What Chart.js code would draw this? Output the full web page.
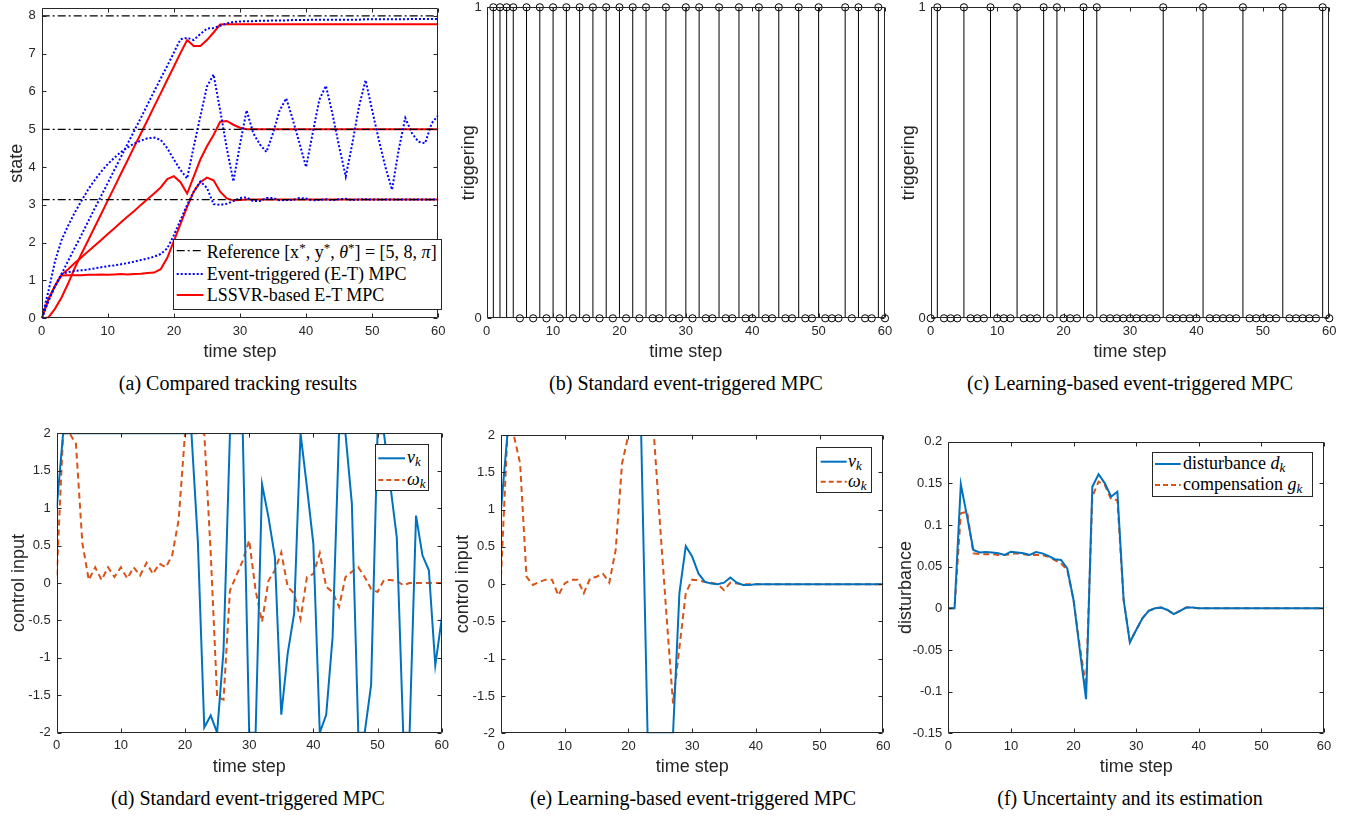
<!DOCTYPE html>
<html>
<head>
<meta charset="utf-8">
<script src="https://cdn.jsdelivr.net/npm/chart.js@4.4.0/dist/chart.umd.min.js"></script>
<style>
  body { margin: 0; background: #fff; }
  #page { position: relative; width: 1353px; height: 817px; overflow: hidden; background: #fff; }
  canvas { position: absolute; }
  .cap { position: absolute; font-family: 'Liberation Serif', 'Times New Roman', serif; font-size: 20px; color: #000;
         white-space: nowrap; transform: translate(-50%, -50%); line-height: 1; }
  .lgbox { position: absolute; background: #fff; border: 1px solid #262626; box-sizing: border-box; }
  .lgtext { position: absolute; font-family: 'Liberation Serif', 'Times New Roman', serif; font-size: 18px; color: #000;
            white-space: nowrap; transform: translateY(-50%); line-height: 1; }
  .lgtext sub { font-size: 13px; vertical-align: -3px; }
  .lgtext sup { font-size: 13px; vertical-align: 6px; }
  svg { position: absolute; overflow: visible; }
</style>
</head>
<body>
<div id="page">
  <canvas id="ca" width="450" height="365" style="left:0px;top:0px"></canvas>
  <canvas id="cb" width="440" height="365" style="left:455px;top:0px"></canvas>
  <canvas id="cc" width="450" height="365" style="left:895px;top:0px"></canvas>
  <canvas id="cd" width="455" height="380" style="left:0px;top:400px"></canvas>
  <canvas id="ce" width="445" height="380" style="left:445px;top:400px"></canvas>
  <canvas id="cf" width="455" height="380" style="left:890px;top:400px"></canvas>

  <div class="cap" style="left:238px;top:383px">(a) Compared tracking results</div>
  <div class="cap" style="left:686px;top:383px">(b) Standard event-triggered MPC</div>
  <div class="cap" style="left:1130px;top:383px">(c) Learning-based event-triggered MPC</div>
  <div class="cap" style="left:248px;top:798px">(d) Standard event-triggered MPC</div>
  <div class="cap" style="left:693px;top:798px">(e) Learning-based event-triggered MPC</div>
  <div class="cap" style="left:1130px;top:798px">(f) Uncertainty and its estimation</div>
</div>
<script>
// ---- data ----
const steps = [0,1,2,3,4,5,6,7,8,9,10,11,12,13,14,15,16,17,18,19,20,21,22,23,24,25,26,27,28,29,30,
  31,32,33,34,35,36,37,38,39,40,41,42,43,44,45,46,47,48,49,50,51,52,53,54,55,56,57,58,59,60];
const xTicks = [0, 10, 20, 30, 40, 50, 60];
const stateTicks = [0, 1, 2, 3, 4, 5, 6, 7, 8];
const trigTicks = [0, 1];
const inputTicks = [-2, -1.5, -1, -0.5, 0, 0.5, 1, 1.5, 2];
const distTicks = [-0.15, -0.1, -0.05, 0, 0.05, 0.1, 0.15, 0.2];

// reference [x*, y*, theta*]
const refValues = [5, 8, 3.1416];

// (a) event-triggered MPC states
const etX = [0,0.7,1.5,2.07,2.45,2.8,3.1,3.4,3.65,3.88,4.08,4.25,4.4,4.52,4.62,4.7,4.76,4.78,4.72,4.5,4.2,
  3.92,3.7,4.54,5.34,6.13,6.45,5.5,4.5,3.62,4.6,5.5,4.9,4.6,4.4,4.9,5.5,5.82,5.25,4.63,4.0,
  4.9,5.78,6.15,5.4,4.54,3.75,4.63,5.6,6.3,5.5,4.72,4.0,3.4,4.45,5.3,4.9,4.67,4.63,5.16,5.37];
const etY = [0,0.45,0.85,1.17,1.52,1.86,2.2,2.55,2.9,3.24,3.58,3.93,4.27,4.62,4.96,5.3,5.65,6.0,6.34,6.68,7.03,
  7.38,7.42,7.36,7.52,7.66,7.68,7.74,7.8,7.84,7.85,7.86,7.86,7.87,7.87,7.88,7.88,7.88,7.89,7.89,7.89,
  7.9,7.9,7.9,7.9,7.9,7.9,7.9,7.9,7.91,7.91,7.91,7.91,7.91,7.91,7.91,7.92,7.92,7.92,7.92,7.92];
const etTheta = [0,0.45,0.85,1.17,1.22,1.25,1.27,1.29,1.32,1.35,1.38,1.4,1.43,1.46,1.5,1.54,1.58,1.63,1.7,1.85,2.2,
  2.6,3.0,3.35,3.62,3.45,3.02,3.0,3.03,3.1,3.18,3.2,3.1,3.1,3.18,3.18,3.12,3.13,3.13,3.18,3.17,
  3.12,3.13,3.15,3.12,3.15,3.16,3.13,3.14,3.15,3.14,3.14,3.14,3.14,3.14,3.14,3.14,3.14,3.14,3.14,3.14];

// (a) LSSVR-based E-T MPC states
const lsX = [0,0.5,0.85,1.15,1.3,1.46,1.61,1.77,1.92,2.07,2.23,2.38,2.54,2.69,2.84,3.0,3.15,3.3,3.46,3.68,3.76,
  3.6,3.3,3.75,4.2,4.55,4.85,5.2,5.22,5.12,5.04,5.0,5.0,5.0,5.0,5.0,5.0,5.0,5.0,5.0,5.0,
  5.0,5.0,5.0,5.0,5.0,5.0,5.0,5.0,5.0,5.0,5.0,5.0,5.0,5.0,5.0,5.0,5.0,5.0,5.0,5.0];
const lsY = [0,0.02,0.25,0.55,0.92,1.33,1.7,2.05,2.41,2.76,3.12,3.47,3.83,4.18,4.54,4.89,5.24,5.6,5.95,6.31,6.66,
  7.02,7.36,7.2,7.2,7.36,7.56,7.77,7.78,7.78,7.78,7.78,7.78,7.78,7.78,7.78,7.78,7.78,7.78,7.78,7.78,
  7.78,7.78,7.78,7.78,7.78,7.78,7.78,7.78,7.78,7.78,7.78,7.78,7.78,7.78,7.78,7.78,7.78,7.78,7.78,7.78];
const lsTheta = [0,0.5,0.85,1.13,1.14,1.14,1.14,1.15,1.15,1.16,1.15,1.16,1.17,1.16,1.17,1.18,1.2,1.21,1.3,1.6,2.05,
  2.5,2.95,3.35,3.6,3.72,3.65,3.35,3.17,3.12,3.13,3.14,3.14,3.14,3.14,3.14,3.14,3.14,3.14,3.14,3.14,
  3.14,3.14,3.14,3.14,3.14,3.14,3.14,3.14,3.14,3.14,3.14,3.14,3.14,3.14,3.14,3.14,3.14,3.14,3.14,3.14];

// (b) / (c) triggering instants
const stdTrig = [null,1,1,1,1,0,1,0,1,0,1,0,1,0,1,0,1,0,1,0,1,
  0,1,0,1,0,0,1,0,0,1,0,1,0,0,1,0,0,1,0,0,
  1,0,0,1,0,0,1,0,0,1,0,0,0,1,0,1,0,0,1,0];
const learnTrig = [0,1,0,0,0,1,0,0,0,1,0,0,0,1,0,0,0,1,0,1,0,
  0,0,1,0,1,0,0,0,0,0,0,0,0,0,1,0,0,0,0,0,
  1,0,0,0,0,0,1,0,0,0,0,0,1,0,0,0,0,0,1,0];

// (d) standard ET MPC inputs
const stdV = [1,2,2,2,2,2,2,2,2,2,2,2,2,2,2,2,2,2,2,2,2,
  2,0.55,-1.93,-1.77,-2,-0.9,2,2,2,-2,-2,1.32,0.88,0.35,-1.76,-0.94,-0.41,2,1.28,0.52,
  -2,-1.76,-0.72,2,2,1.06,-2,-2,-1.36,2,2,1.3,0.61,-2,-2,0.9,0.37,0.17,-1.1,-0.48];
const stdW = [0.1,2,2,1.86,0.53,0.04,0.21,0.04,0.21,0.08,0.21,0.06,0.21,0.1,0.27,0.12,0.26,0.21,0.37,0.84,2,
  2,2,2,0.4,-1.52,-1.56,-0.1,0.1,0.3,0.57,-0.1,-0.52,0.03,0.17,0.41,-0.05,-0.14,-0.48,0.08,0.12,
  0.4,-0.05,-0.12,-0.32,0.08,0.15,0.21,0.08,-0.08,-0.12,0.04,0.04,0.03,-0.03,0,0,0,0,0,0];

// (e) learning-based ET MPC inputs
const lrnV = [1,2,2,2,2,2,2,2,2,2,2,2,2,2,2,2,2,2,2,2,2,
  2,2,-2,-2,-2,-2,-2,-0.12,0.51,0.37,0.14,0.03,0.01,0,0.02,0.09,0.02,-0.01,-0.01,0,
  0,0,0,0,0,0,0,0,0,0,0,0,0,0,0,0,0,0,0,0];
const lrnW = [0.1,2,2,1.62,0.1,-0.01,0.03,0.06,0.06,-0.15,0.01,0.06,0.06,-0.12,0.08,0.1,0.14,0.02,0.46,1.62,2,
  2,2,2,2,0.75,-0.45,-1.6,-0.85,-0.12,0.06,0.05,0.03,0.02,0,-0.08,0.02,0.01,0,0,0,
  0,0,0,0,0,0,0,0,0,0,0,0,0,0,0,0,0,0,0,0];

// (f) disturbance and its compensation
const dist = [0,0,0.149,0.11,0.07,0.067,0.0676,0.067,0.066,0.064,0.068,0.067,0.066,0.064,0.0676,0.066,0.063,0.059,0.058,0.048,0.01,
  -0.05,-0.109,0.146,0.161,0.15,0.134,0.14,0.01,-0.041,-0.026,-0.012,-0.003,0,0.001,-0.002,-0.007,-0.003,0.001,0.001,0,
  0,0,0,0,0,0,0,0,0,0,0,0,0,0,0,0,0,0,0,0];
const comp = [0,0,0.114,0.116,0.066,0.065,0.065,0.065,0.064,0.064,0.065,0.066,0.065,0.064,0.064,0.064,0.062,0.058,0.054,0.046,0.01,
  -0.046,-0.094,0.134,0.152,0.148,0.131,0.13,0.01,-0.04,-0.026,-0.012,-0.003,0,0.001,-0.002,-0.007,-0.003,0.001,0.001,0,
  0,0,0,0,0,0,0,0,0,0,0,0,0,0,0,0,0,0,0,0];

// ---- helpers ----
const AX = '#262626';
const SANS = "'Liberation Sans', Arial, Helvetica, sans-serif";
const BLUE = '#0072BD', ORANGE = '#D95319';

const pts = ys => ys.map((y, i) => ({ x: steps[i], y: y }));

function stemLines(vals) {
  const out = [];
  vals.forEach((v, i) => {
    if (v === 1) out.push({ x: steps[i], y: 0 }, { x: steps[i], y: 1 }, { x: steps[i], y: null });
  });
  return out;
}
function stemHeads(vals) {
  return vals.map((v, i) => ({ x: steps[i], y: v })).filter(p => p.y !== null);
}

// matlab-like box with inward ticks on all four sides
const boxPlugin = {
  id: 'mbox',
  afterDatasetsDraw(chart) {
    const { ctx, chartArea: a, scales } = chart;
    const L = Math.round(a.left) + 0.5, R = Math.round(a.right) - 0.5;
    const T = Math.round(a.top) + 0.5, B = Math.round(a.bottom) - 0.5;
    ctx.save();
    ctx.strokeStyle = AX;
    ctx.lineWidth = 1;
    ctx.beginPath();
    ctx.rect(L, T, R - L, B - T);
    const tl = 4;
    scales.x.ticks.forEach(t => {
      const px = Math.round(scales.x.getPixelForValue(t.value)) + 0.5;
      ctx.moveTo(px, B); ctx.lineTo(px, B - tl);
      ctx.moveTo(px, T); ctx.lineTo(px, T + tl);
    });
    scales.y.ticks.forEach(t => {
      const py = Math.round(scales.y.getPixelForValue(t.value)) + 0.5;
      ctx.moveTo(L, py); ctx.lineTo(L + tl, py);
      ctx.moveTo(R, py); ctx.lineTo(R - tl, py);
    });
    ctx.stroke();
    ctx.restore();
  }
};

function plot(id, o) {
  return new Chart(document.getElementById(id), {
    type: 'line',
    data: { datasets: o.datasets },
    options: {
      responsive: false,
      animation: false,
      events: [],
      layout: { padding: { top: o.top, right: o.right, left: 0, bottom: 0 } },
      plugins: { legend: { display: false }, tooltip: { enabled: false } },
      elements: { point: { radius: 0 }, line: { tension: 0 } },
      scales: {
        x: {
          type: 'linear', min: 0, max: 60,
          afterBuildTicks: s => { s.ticks = xTicks.map(v => ({ value: v })); },
          afterFit: s => { s.height = o.xh; s.paddingLeft = 0; s.paddingRight = 0; },
          grid: { display: false, drawTicks: false },
          border: { display: false },
          ticks: { color: AX, font: { family: SANS, size: 13 }, padding: 5, maxRotation: 0, autoSkip: false,
                   callback: v => String(v) },
          title: { display: true, text: 'time step', color: AX, font: { family: SANS, size: 18 },
                   padding: { top: 0, bottom: 2.2 } }
        },
        y: {
          type: 'linear', min: o.ymin, max: o.ymax,
          afterBuildTicks: s => { s.ticks = o.yticks.map(v => ({ value: v })); },
          afterFit: s => { s.width = o.yw; s.paddingTop = 0; s.paddingBottom = 0; },
          grid: { display: false, drawTicks: false },
          border: { display: false },
          ticks: { color: AX, font: { family: SANS, size: 13 }, padding: o.ypad, autoSkip: false,
                   callback: v => String(v) },
          title: { display: true, text: o.ytitle, color: AX, font: { family: SANS, size: 18 },
                   padding: { top: o.tpad, bottom: 0 } }
        }
      }
    },
    plugins: [boxPlugin]
  });
}

// ---- (a) tracking results ----
const refSets = refValues.map(v => ({
  data: [{ x: 0, y: v }, { x: 60, y: v }],
  borderColor: '#000', borderWidth: 1.2, borderDash: [8, 3, 2, 3]
}));
const etSet = ys => ({ data: pts(ys), borderColor: '#0000FF', borderWidth: 2, borderDash: [2, 2] });
const lsSet = ys => ({ data: pts(ys), borderColor: '#FF0000', borderWidth: 2 });
plot('ca', {
  datasets: [...refSets, etSet(etX), etSet(etY), etSet(etTheta), lsSet(lsX), lsSet(lsY), lsSet(lsTheta)],
  ymin: 0, ymax: 8.2, yticks: stateTicks, ytitle: 'state',
  top: 8.3, right: 11.7, yw: 41.7, xh: 46.7, ypad: 6, tpad: 6.7
});

// ---- (b) / (c) triggering stems ----
const stemSets = vals => [
  { data: stemLines(vals), borderColor: '#000', borderWidth: 1, spanGaps: false },
  { data: stemHeads(vals), showLine: false, pointRadius: 3.6, pointBorderWidth: 1,
    pointBorderColor: '#000', pointBackgroundColor: 'rgba(0,0,0,0)', clip: false }
];
plot('cb', {
  datasets: stemSets(stdTrig),
  ymin: 0, ymax: 1, yticks: trigTicks, ytitle: 'triggering',
  top: 7.3, right: 10, yw: 31.7, xh: 46.7, ypad: 5, tpad: 3.2
});
plot('cc', {
  datasets: stemSets(learnTrig),
  ymin: 0, ymax: 1, yticks: trigTicks, ytitle: 'triggering',
  top: 7.3, right: 15.7, yw: 35.7, xh: 46.7, ypad: 5, tpad: 3.2
});

// ---- (d) / (e) control inputs ----
const solid = ys => ({ data: pts(ys), borderColor: BLUE, borderWidth: 2 });
const dashed = ys => ({ data: pts(ys), borderColor: ORANGE, borderWidth: 2, borderDash: [6, 4] });
plot('cd', {
  datasets: [solid(stdV), dashed(stdW)],
  ymin: -2, ymax: 2, yticks: inputTicks, ytitle: 'control input',
  top: 33.3, right: 13.3, yw: 56.7, xh: 47.3, ypad: 6, tpad: 8.2
});
plot('ce', {
  datasets: [solid(lrnV), dashed(lrnW)],
  ymin: -2, ymax: 2, yticks: inputTicks, ytitle: 'control input',
  top: 35, right: 6.7, yw: 56, xh: 46.7, ypad: 6, tpad: 7.2
});

// ---- (f) disturbance ----
plot('cf', {
  datasets: [solid(dist), dashed(comp)],
  ymin: -0.15, ymax: 0.2, yticks: distTicks, ytitle: 'disturbance',
  top: 41.7, right: 21, yw: 58.3, xh: 46.7, ypad: 6, tpad: 5.2
});

// ---- legends (html overlays) ----
const page = document.getElementById('page');
function legend(box, rows) {
  const b = document.createElement('div');
  b.className = 'lgbox';
  b.style.left = box[0] + 'px'; b.style.top = box[1] + 'px';
  b.style.width = (box[2] - box[0]) + 'px'; b.style.height = (box[3] - box[1]) + 'px';
  page.appendChild(b);
  rows.forEach(r => {
    const s = document.createElementNS('http://www.w3.org/2000/svg', 'svg');
    s.setAttribute('width', '1'); s.setAttribute('height', '1');
    s.style.left = '0px'; s.style.top = '0px';
    const ln = document.createElementNS('http://www.w3.org/2000/svg', 'line');
    ln.setAttribute('x1', r.x1); ln.setAttribute('x2', r.x2);
    ln.setAttribute('y1', r.y); ln.setAttribute('y2', r.y);
    ln.setAttribute('stroke', r.color); ln.setAttribute('stroke-width', r.w);
    if (r.dash) ln.setAttribute('stroke-dasharray', r.dash);
    s.appendChild(ln);
    page.appendChild(s);
    const t = document.createElement('div');
    t.className = 'lgtext';
    t.style.left = r.tx + 'px'; t.style.top = r.y + 'px';
    t.innerHTML = r.html;
    page.appendChild(t);
  });
}
legend([172.7, 239.3, 441.7, 310], [
  { x1: 176.7, x2: 203.3, y: 250.7, color: '#000', w: 1.2, dash: '8 3 2 3', tx: 206.7,
    html: 'Reference [x<sup>*</sup>, y<sup>*</sup>, <i>θ</i><sup>*</sup>] = [5, 8, <i>π</i>]' },
  { x1: 176.7, x2: 203.3, y: 274, color: '#0000FF', w: 2, dash: '2 2', tx: 206.7,
    html: 'Event-triggered (E-T) MPC' },
  { x1: 176.7, x2: 203.3, y: 295, color: '#FF0000', w: 2, tx: 206.7,
    html: 'LSSVR-based E-T MPC' }
]);
legend([375, 444, 429.3, 490.7], [
  { x1: 378.3, x2: 405, y: 458.3, color: BLUE, w: 2, tx: 407, html: '<i>v</i><sub><i>k</i></sub>' },
  { x1: 378.3, x2: 405, y: 480, color: ORANGE, w: 2, dash: '5 3', tx: 407, html: '<i>ω</i><sub><i>k</i></sub>' }
]);
legend([816, 446.7, 871.7, 492.7], [
  { x1: 820.7, x2: 846.7, y: 461.7, color: BLUE, w: 2, tx: 848, html: '<i>v</i><sub><i>k</i></sub>' },
  { x1: 820.7, x2: 846.7, y: 481.7, color: ORANGE, w: 2, dash: '5 3', tx: 848, html: '<i>ω</i><sub><i>k</i></sub>' }
]);
legend([1151.7, 452.3, 1312.7, 497.3], [
  { x1: 1155, x2: 1180.7, y: 464, color: BLUE, w: 2, tx: 1183, html: 'disturbance <i>d</i><sub><i>k</i></sub>' },
  { x1: 1155, x2: 1180.7, y: 485, color: ORANGE, w: 2, dash: '5 3', tx: 1183, html: 'compensation <i>g</i><sub><i>k</i></sub>' }
]);
</script>
</body>
</html>
